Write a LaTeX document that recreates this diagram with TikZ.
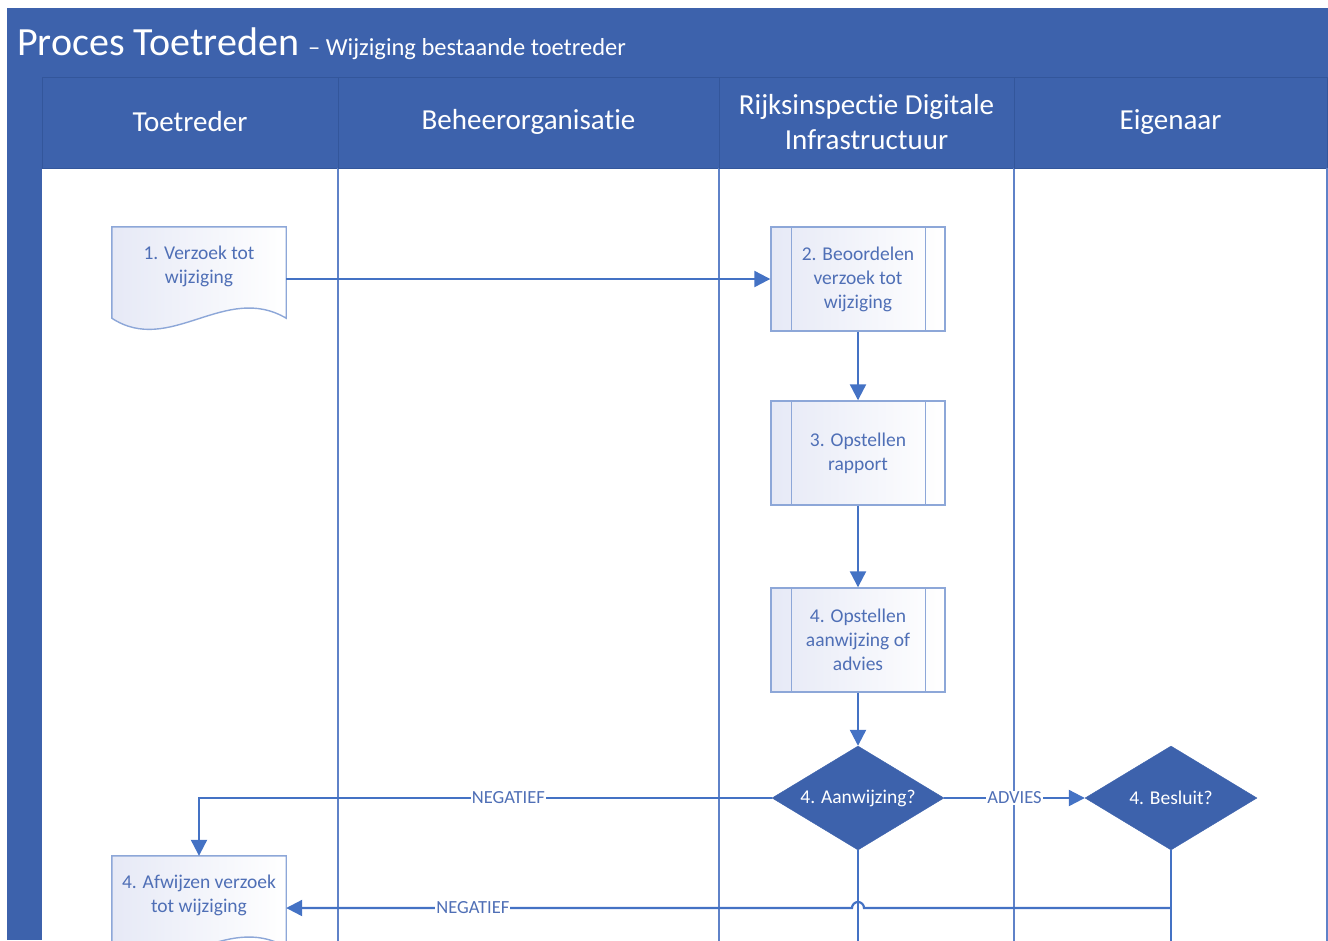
\documentclass[tikz,border=0pt]{standalone}
\usepackage{fontspec}
\setmainfont{Carlito}[Ligatures=NoCommon]
\usetikzlibrary{shapes.geometric,arrows.meta,calc,backgrounds}

\definecolor{band}{HTML}{3D62AC}
\definecolor{bandline}{HTML}{33569B}
\definecolor{laneline}{HTML}{5F82C8}
\definecolor{flowblue}{HTML}{4472C4}
\definecolor{txtblue}{HTML}{4F6FB6}
\definecolor{boxline}{HTML}{8DA7D8}
\definecolor{boxfill}{HTML}{E6E9F6}

\tikzset{
  lanehead/.style={text=white, align=center, font=\fontsize{29}{35}\selectfont},
  stepbox/.style={draw=boxline, line width=1.4pt, left color=boxfill, right color=white,
    minimum width=174pt, minimum height=104pt, inner sep=0pt,
    text=txtblue, align=center, font=\fontsize{19.5}{24}\selectfont},
  docbox/.style={minimum width=174pt, minimum height=78pt, inner sep=0pt,
    text=txtblue, align=center, font=\fontsize{19.5}{24}\selectfont},
  docline/.style={draw=boxline, line width=1.4pt, left color=boxfill, right color=white},
  decision/.style={diamond, draw=band, fill=band, aspect=1.654, minimum width=172pt,
    minimum height=104pt, inner sep=0pt, text=white, font=\fontsize{19.5}{24}\selectfont},
  line/.style={draw=flowblue, line width=2.2pt},
  flow/.style={line, ->},
  lbl/.style={fill=white, text=txtblue, inner sep=1pt, font=\fontsize{18.5}{20}\selectfont},
}

\begin{document}
\begin{tikzpicture}[x=1pt, y=-1pt, >={Triangle[length=16pt,width=16pt]}]
  \useasboundingbox (0,0) rectangle (1328,940);

  % title band and left bar
  \fill[band] (7,8) rectangle (1328,77);
  \fill[band] (7,77) rectangle (42,940);
  \node[anchor=base west, text=white, inner sep=0pt] (title) at (17,55)
    {\fontsize{40}{42}\selectfont Proces Toetreden \fontsize{24.5}{26}\selectfont– Wijziging bestaande toetreder};

  % swimlanes
  \foreach \xa/\xb/\lname [count=\i] in {42/338/Toetreder, 338/719/Beheerorganisatie,
      719/1014/{Rijksinspectie Digitale\\Infrastructuur}, 1014/1327/Eigenaar}
  {
    \draw[bandline, fill=band, line width=1pt] (\xa,77) rectangle (\xb,168);
    \node[lanehead] (lane\i) at ({(\xa+\xb)/2},122) {\lname};
    \draw[laneline, line width=1.5pt] (\xb,168) -- (\xb,945);
  }

  % steps
  \node[docbox] (doc1) at (199,266) {1. Verzoek tot\\wijziging};
  \node[stepbox] (p2) at (858,279) {2. Beoordelen\\verzoek tot\\wijziging};
  \node[stepbox] (p3) at (858,453) {3. Opstellen\\rapport};
  \node[stepbox] (p4) at (858,640) {4. Opstellen\\aanwijzing of\\advies};
  \node[decision] (aanw) at (858,798) {4. Aanwijzing?};
  \node[decision] (besluit) at (1171,798) {4. Besluit?};
  \node[docbox] (doc4) at (199,895) {4. Afwijzen verzoek\\tot wijziging};

  % side bars of the sub-processes
  \foreach \p in {p2,p3,p4}
  {
    \draw[boxline, line width=1.4pt] ($(\p.north west)+(21,0)$) -- ($(\p.south west)+(21,0)$);
    \draw[boxline, line width=1.4pt] ($(\p.north east)+(-20,0)$) -- ($(\p.south east)+(-20,0)$);
  }

  % document outlines behind the texts
  \begin{scope}[on background layer]
    \foreach \d in {doc1,doc4}
      \draw[docline] (\d.north west) -- (\d.north east) -- ($(\d.south east)+(0,13)$)
        .. controls +(-61,-36) and +(58,38) .. ($(\d.south west)+(0,13)$) -- cycle;
  \end{scope}

  % connectors
  \coordinate (r4) at ($(doc4.east)+(0,13)$);
  \draw[flow] (doc1.east |- p2) -- (p2.west);
  \draw[flow] (p2) -- (p3);
  \draw[flow] (p3) -- (p4);
  \draw[flow] (p4) -- (aanw);
  \draw[flow] (aanw.west) -| node[lbl, pos=0.23] (neg1) {NEGATIEF} (doc4.north);
  \draw[flow] (aanw.east) -- node[lbl] (advies) {ADVIES} (besluit.west);
  \draw[line] (aanw.south) -- ++(0,120);
  \draw[line] (besluit.south) -- ++(0,120);
  \draw[flow] (besluit.south |- r4) -- ($(aanw.south |- r4)+(6,0)$)
    arc[start angle=0, end angle=180, radius=6pt] -- node[lbl, pos=0.67] (neg2) {NEGATIEF} (r4);
\end{tikzpicture}
\end{document}
